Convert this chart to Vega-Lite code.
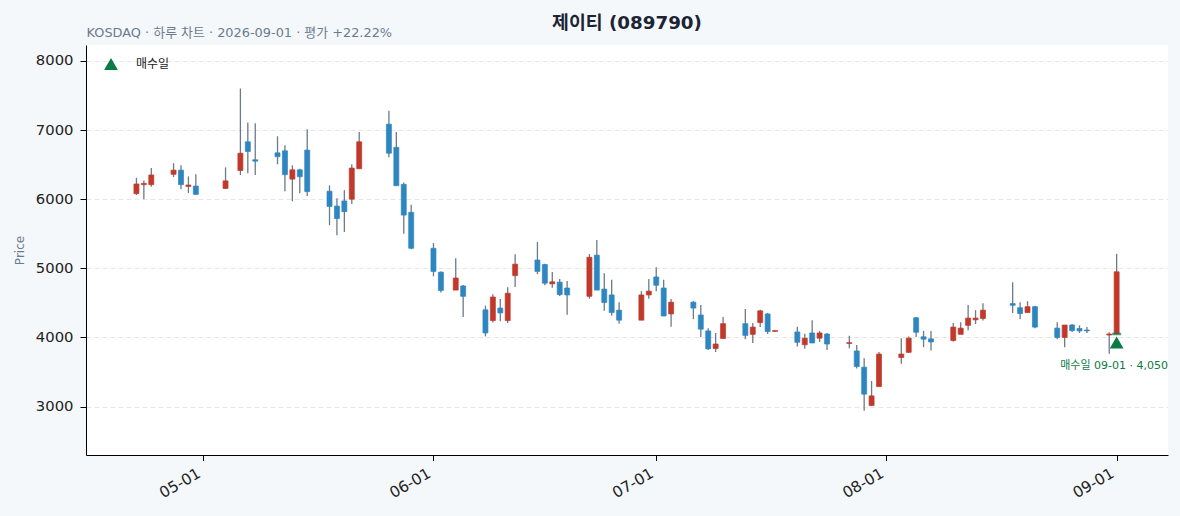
{
  "$schema": "https://vega.github.io/schema/vega-lite/v6.json",
  "width": 1082,
  "height": 410,
  "autosize": "none",
  "padding": {"left": 86, "top": 45, "right": 12, "bottom": 61},
  "background": "#f5f8fb",
  "view": {"fill": "#ffffff", "stroke": null},
  "config": {
    "font": "DejaVu Sans, Noto Sans CJK KR",
    "axis": {"labelFont": "DejaVu Sans, Noto Sans CJK KR", "titleFont": "DejaVu Sans, Noto Sans CJK KR"},
    "legend": {"labelFont": "DejaVu Sans, Noto Sans CJK KR"},
    "title": {"font": "DejaVu Sans, Noto Sans CJK KR"},
    "scale": {"continuousPadding": 0}
  },
  "title": {
    "text": "제이티 (089790)",
    "anchor": "middle",
    "fontSize": 18.3,
    "fontWeight": "bold",
    "color": "#1c2434",
    "offset": 4,
    "dy": 11
  },
  "data": {
    "values": [
      {"date": "2026-04-22", "open": 6080, "close": 6220, "high": 6310, "low": 6060},
      {"date": "2026-04-23", "open": 6210, "close": 6228, "high": 6270, "low": 6000},
      {"date": "2026-04-24", "open": 6210, "close": 6350, "high": 6450, "low": 6180},
      {"date": "2026-04-27", "open": 6360, "close": 6420, "high": 6520, "low": 6320},
      {"date": "2026-04-28", "open": 6420, "close": 6210, "high": 6490, "low": 6145},
      {"date": "2026-04-29", "open": 6185, "close": 6205, "high": 6330, "low": 6090},
      {"date": "2026-04-30", "open": 6190, "close": 6070, "high": 6360, "low": 6065},
      {"date": "2026-05-04", "open": 6155, "close": 6265, "high": 6460, "low": 6150},
      {"date": "2026-05-06", "open": 6415, "close": 6665, "high": 7600, "low": 6350},
      {"date": "2026-05-07", "open": 6830, "close": 6690, "high": 7110, "low": 6375},
      {"date": "2026-05-08", "open": 6570, "close": 6550, "high": 7100, "low": 6350},
      {"date": "2026-05-11", "open": 6670, "close": 6615, "high": 6910, "low": 6505},
      {"date": "2026-05-12", "open": 6700, "close": 6355, "high": 6780, "low": 6115},
      {"date": "2026-05-13", "open": 6290, "close": 6425, "high": 6490, "low": 5970},
      {"date": "2026-05-14", "open": 6425, "close": 6325, "high": 6440, "low": 6085},
      {"date": "2026-05-15", "open": 6710, "close": 6110, "high": 7010, "low": 6045},
      {"date": "2026-05-18", "open": 6115, "close": 5895, "high": 6200, "low": 5625},
      {"date": "2026-05-19", "open": 5900, "close": 5720, "high": 6015, "low": 5480},
      {"date": "2026-05-20", "open": 5975, "close": 5820, "high": 6130, "low": 5525},
      {"date": "2026-05-21", "open": 6000, "close": 6450, "high": 6505, "low": 5930},
      {"date": "2026-05-22", "open": 6440, "close": 6830, "high": 6970, "low": 6440},
      {"date": "2026-05-26", "open": 7085, "close": 6665, "high": 7280, "low": 6605},
      {"date": "2026-05-27", "open": 6750, "close": 6195, "high": 6970, "low": 6190},
      {"date": "2026-05-28", "open": 6215, "close": 5770, "high": 6240, "low": 5500},
      {"date": "2026-05-29", "open": 5810, "close": 5290, "high": 5920, "low": 5275},
      {"date": "2026-06-01", "open": 5290, "close": 4955, "high": 5365, "low": 4885},
      {"date": "2026-06-02", "open": 4945, "close": 4680, "high": 4955, "low": 4650},
      {"date": "2026-06-04", "open": 4685, "close": 4860, "high": 5145, "low": 4685},
      {"date": "2026-06-05", "open": 4745, "close": 4595, "high": 4760, "low": 4295},
      {"date": "2026-06-08", "open": 4400, "close": 4065, "high": 4460, "low": 4015},
      {"date": "2026-06-09", "open": 4245, "close": 4585, "high": 4625, "low": 4215},
      {"date": "2026-06-10", "open": 4425, "close": 4355, "high": 4555, "low": 4235},
      {"date": "2026-06-11", "open": 4245, "close": 4640, "high": 4725, "low": 4210},
      {"date": "2026-06-12", "open": 4895, "close": 5060, "high": 5205, "low": 4730},
      {"date": "2026-06-15", "open": 5120, "close": 4955, "high": 5380, "low": 4915},
      {"date": "2026-06-16", "open": 5055, "close": 4785, "high": 5065, "low": 4755},
      {"date": "2026-06-17", "open": 4775, "close": 4805, "high": 4945, "low": 4720},
      {"date": "2026-06-18", "open": 4800, "close": 4620, "high": 4845, "low": 4600},
      {"date": "2026-06-19", "open": 4715, "close": 4615, "high": 4815, "low": 4330},
      {"date": "2026-06-22", "open": 4595, "close": 5160, "high": 5205, "low": 4560},
      {"date": "2026-06-23", "open": 5190, "close": 4685, "high": 5410, "low": 4685},
      {"date": "2026-06-24", "open": 4700, "close": 4505, "high": 4930, "low": 4385},
      {"date": "2026-06-25", "open": 4615, "close": 4360, "high": 4835, "low": 4315},
      {"date": "2026-06-26", "open": 4395, "close": 4250, "high": 4510, "low": 4200},
      {"date": "2026-06-29", "open": 4250, "close": 4615, "high": 4670, "low": 4250},
      {"date": "2026-06-30", "open": 4615, "close": 4670, "high": 4845, "low": 4560},
      {"date": "2026-07-01", "open": 4875, "close": 4755, "high": 5015, "low": 4670},
      {"date": "2026-07-02", "open": 4715, "close": 4310, "high": 4835, "low": 4310},
      {"date": "2026-07-03", "open": 4340, "close": 4510, "high": 4555, "low": 4155},
      {"date": "2026-07-06", "open": 4510, "close": 4425, "high": 4525, "low": 4265},
      {"date": "2026-07-07", "open": 4325, "close": 4120, "high": 4470, "low": 4005},
      {"date": "2026-07-08", "open": 4095, "close": 3835, "high": 4135, "low": 3820},
      {"date": "2026-07-09", "open": 3840, "close": 3905, "high": 4065, "low": 3790},
      {"date": "2026-07-10", "open": 3985, "close": 4200, "high": 4295, "low": 3985},
      {"date": "2026-07-13", "open": 4200, "close": 4030, "high": 4410, "low": 3975},
      {"date": "2026-07-14", "open": 4045, "close": 4150, "high": 4210, "low": 3920},
      {"date": "2026-07-15", "open": 4215, "close": 4385, "high": 4400, "low": 4150},
      {"date": "2026-07-16", "open": 4340, "close": 4085, "high": 4355, "low": 4050},
      {"date": "2026-07-17", "open": 4088, "close": 4100, "high": 4102, "low": 4085},
      {"date": "2026-07-20", "open": 4080, "close": 3930, "high": 4155, "low": 3870},
      {"date": "2026-07-21", "open": 3895, "close": 3990, "high": 4055, "low": 3835},
      {"date": "2026-07-22", "open": 4065, "close": 3920, "high": 4250, "low": 3920},
      {"date": "2026-07-23", "open": 3990, "close": 4065, "high": 4095, "low": 3935},
      {"date": "2026-07-24", "open": 4050, "close": 3905, "high": 4065, "low": 3820},
      {"date": "2026-07-27", "open": 3912, "close": 3925, "high": 4025, "low": 3845},
      {"date": "2026-07-28", "open": 3805, "close": 3580, "high": 3890, "low": 3550},
      {"date": "2026-07-29", "open": 3570, "close": 3180, "high": 3700, "low": 2940},
      {"date": "2026-07-30", "open": 3015, "close": 3155, "high": 3370, "low": 3015},
      {"date": "2026-07-31", "open": 3290, "close": 3760, "high": 3790, "low": 3290},
      {"date": "2026-08-03", "open": 3710, "close": 3760, "high": 3990, "low": 3620},
      {"date": "2026-08-04", "open": 3785, "close": 3990, "high": 4015, "low": 3775},
      {"date": "2026-08-05", "open": 4285, "close": 4075, "high": 4295, "low": 4005},
      {"date": "2026-08-06", "open": 4010, "close": 3975, "high": 4095, "low": 3860},
      {"date": "2026-08-07", "open": 3980, "close": 3935, "high": 4095, "low": 3810},
      {"date": "2026-08-10", "open": 3955, "close": 4150, "high": 4210, "low": 3940},
      {"date": "2026-08-11", "open": 4045, "close": 4135, "high": 4220, "low": 4045},
      {"date": "2026-08-12", "open": 4175, "close": 4280, "high": 4470, "low": 4105},
      {"date": "2026-08-13", "open": 4255, "close": 4280, "high": 4395, "low": 4195},
      {"date": "2026-08-14", "open": 4275, "close": 4395, "high": 4495, "low": 4245},
      {"date": "2026-08-18", "open": 4490, "close": 4465, "high": 4800, "low": 4355},
      {"date": "2026-08-19", "open": 4430, "close": 4345, "high": 4510, "low": 4265},
      {"date": "2026-08-20", "open": 4360, "close": 4445, "high": 4525, "low": 4360},
      {"date": "2026-08-21", "open": 4445, "close": 4150, "high": 4460, "low": 4135},
      {"date": "2026-08-24", "open": 4135, "close": 4000, "high": 4220, "low": 3975},
      {"date": "2026-08-25", "open": 4000, "close": 4180, "high": 4180, "low": 3860},
      {"date": "2026-08-26", "open": 4180, "close": 4100, "high": 4195, "low": 4080},
      {"date": "2026-08-27", "open": 4130, "close": 4095, "high": 4175, "low": 4065},
      {"date": "2026-08-28", "open": 4108, "close": 4095, "high": 4150, "low": 4065},
      {"date": "2026-08-31", "open": 4035, "close": 4050, "high": 4075, "low": 3765},
      {"date": "2026-09-01", "open": 4050, "close": 4950, "high": 5210, "low": 4050}
    ]
  },
  "resolve": {"axis": {"x": "independent"}},
  "layer": [
    {
      "mark": {"type": "rule", "color": "#6c7a89", "strokeWidth": 1.3},
      "encoding": {
        "x": {
          "field": "date", "type": "temporal",
          "scale": {"type": "utc", "padding": 0, "domain": [
            {"year": 2026, "month": 4, "date": 15, "hours": 5, "utc": true},
            {"year": 2026, "month": 9, "date": 7, "hours": 22, "utc": true}
          ]},
          "axis": {
            "title": null,
            "format": "%m-%d",
            "values": [
              {"year": 2026, "month": 5, "date": 1, "utc": true},
              {"year": 2026, "month": 6, "date": 1, "utc": true},
              {"year": 2026, "month": 7, "date": 1, "utc": true},
              {"year": 2026, "month": 8, "date": 1, "utc": true},
              {"year": 2026, "month": 9, "date": 1, "utc": true}
            ],
            "labelAngle": -30,
            "labelAlign": "right",
            "labelBaseline": "top",
            "labelFontSize": 15.3,
            "labelColor": "#222222",
            "labelPadding": 5,
            "labelOffset": -8,
            "tickSize": 5.5,
            "tickColor": "#000000",
            "domainColor": "#000000",
            "grid": false
          }
        },
        "y": {
          "field": "low", "type": "quantitative",
          "scale": {"domain": [2300, 8230], "nice": false, "zero": false},
          "axis": {
            "title": "Price",
            "titleColor": "#6b7b8f",
            "titleFontSize": 12,
            "titleFontWeight": "normal",
            "titlePadding": 9,
            "values": [3000, 4000, 5000, 6000, 7000, 8000],
            "format": "d",
            "labelFontSize": 14.8,
            "labelColor": "#222222",
            "labelPadding": 7,
            "tickSize": 6,
            "tickColor": "#000000",
            "domainColor": "#000000",
            "grid": true,
            "gridColor": "#e6e6e6",
            "gridDash": [5, 3],
            "gridWidth": 1
          }
        },
        "y2": {"field": "high"}
      }
    },
    {
      "mark": {"type": "bar", "size": 5, "strokeWidth": 0.7},
      "encoding": {
        "x": {
          "field": "date", "type": "temporal",
          "axis": {
            "orient": "top",
            "labels": false,
            "ticks": false,
            "domain": false,
            "grid": false,
            "title": "KOSDAQ · 하루 차트 · 2026-09-01 · 평가 +22.22%",
            "titleAnchor": "start",
            "titleAlign": "left",
            "titleFontSize": 12.9,
            "titleFontWeight": "normal",
            "titleColor": "#6b7b8f",
            "titlePadding": 6
          }
        },
        "y": {"field": "open", "type": "quantitative"},
        "y2": {"field": "close"},
        "color": {"condition": {"test": "datum.close >= datum.open", "value": "#c0392b"}, "value": "#2e86c1"},
        "stroke": {"condition": {"test": "datum.close >= datum.open", "value": "#c0392b"}, "value": "#2e86c1"}
      }
    },
    {
      "data": {"values": [{"date": "2026-09-01", "price": 4050, "marker": 3928, "kind": "매수일", "label": "매수일 09-01 · 4,050"}]},
      "layer": [
        {
          "mark": {"type": "tick", "orient": "horizontal", "color": "#0b7a45", "size": 9, "thickness": 2.5},
          "encoding": {
            "x": {"field": "date", "type": "temporal", "axis": null},
            "y": {"field": "price", "type": "quantitative"}
          }
        },
        {
          "mark": {"type": "point", "filled": true, "opacity": 1, "size": 190},
          "encoding": {
            "x": {"field": "date", "type": "temporal", "axis": null},
            "y": {"field": "marker", "type": "quantitative"},
            "color": {"field": "kind", "type": "nominal", "scale": {"range": ["#0b7a45"]},
              "legend": {"title": null, "orient": "none", "legendX": 17, "legendY": 11, "labelFontSize": 12, "labelColor": "#222222", "labelOffset": 17, "symbolSize": 190}},
            "shape": {"field": "kind", "type": "nominal", "scale": {"range": ["triangle-up"]}}
          }
        },
        {
          "mark": {"type": "text", "color": "#0b7a45", "fontSize": 11, "dy": 24, "dx": -2.5, "align": "center"},
          "encoding": {
            "x": {"field": "date", "type": "temporal", "axis": null},
            "y": {"field": "marker", "type": "quantitative"},
            "text": {"field": "label"}
          }
        }
      ]
    }
  ]
}
